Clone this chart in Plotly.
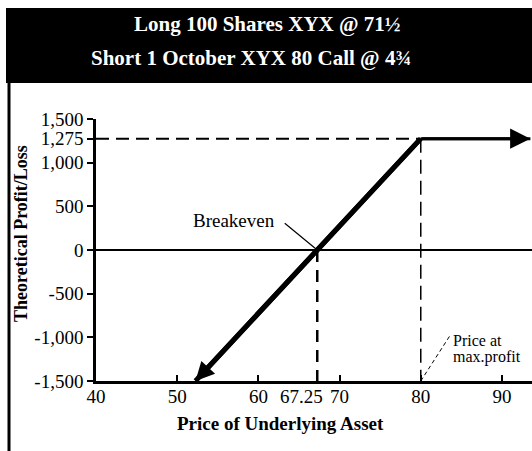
import plotly.graph_objects as go

# ---------------- data ----------------
title_line1 = "Long 100 Shares XYX @ 71½"
title_line2 = "Short 1 October XYX 80 Call @ 4¾"
prices = [52.25, 80, 93.5]          # underlying price at path points
profit = [-1500, 1275, 1275]        # theoretical profit/loss
breakeven = 67.25
max_profit_price = 80
max_profit = 1275
x_ticks = [40, 50, 60, 70, 80, 90]
y_ticks = [-1500, -1000, -500, 0, 500, 1000, 1275, 1500]
y_tick_labels = ["-1,500", "-1,000", "-500", "0", "500", "1,000", "1,275", "1,500"]
breakeven_tick_label = "67.25"
x_title = "Price of Underlying Asset"
y_title = "Theoretical Profit/Loss"
breakeven_label = "Breakeven"
maxprofit_label1 = "Price at"
maxprofit_label2 = "max.profit"

# ---------------- layout geometry ----------------
W, H = 532, 451
L, R, T, B = 96, 0, 119, 70
X_RANGE = [40, 93.7]
Y_RANGE = [-1500, 1500]
FONT = "Liberation Serif, Times New Roman, serif"


def pxx(p):
    return (p - L) / (W - L - R)


def pxy(p):
    return (H - B - p) / (H - T - B)


def dx(p):
    return X_RANGE[0] + pxx(p) * (X_RANGE[1] - X_RANGE[0])


def dy(p):
    return Y_RANGE[0] + pxy(p) * (Y_RANGE[1] - Y_RANGE[0])


fig = go.Figure()
fig.add_trace(go.Scatter(x=prices[:2], y=profit[:2], mode="lines",
                         line=dict(color="black", width=5), hoverinfo="skip"))
fig.add_trace(go.Scatter(x=prices[1:], y=profit[1:], mode="lines",
                         line=dict(color="black", width=3), hoverinfo="skip"))

shapes = [
    # title box
    dict(type="rect", xref="paper", yref="paper", x0=pxx(6), x1=pxx(540),
         y0=pxy(83), y1=pxy(8), fillcolor="black", line=dict(width=0)),
    # left frame border
    dict(type="line", xref="paper", yref="paper", x0=pxx(9), x1=pxx(9),
         y0=pxy(83), y1=pxy(460), line=dict(color="black", width=3)),
    # dashed guide lines
    dict(type="line", xref="x", yref="y", x0=X_RANGE[0], x1=max_profit_price,
         y0=max_profit, y1=max_profit, line=dict(color="black", width=2, dash="13px,7px")),
    dict(type="line", xref="x", yref="y", x0=breakeven, x1=breakeven,
         y0=0, y1=Y_RANGE[0], line=dict(color="black", width=2.5, dash="12px,8px")),
    dict(type="line", xref="x", yref="y", x0=max_profit_price, x1=max_profit_price,
         y0=max_profit, y1=Y_RANGE[0], line=dict(color="black", width=1.5, dash="14px,7px")),
    # leader to "Price at max.profit"
    dict(type="line", xref="x", yref="y", x0=max_profit_price, x1=dx(451),
         y0=Y_RANGE[0], y1=dy(334), line=dict(color="black", width=1, dash="4px,3px")),
]

annotations = [
    # arrowheads on the payoff line
    dict(x=prices[0], y=profit[0], ax=prices[1], ay=profit[1], xref="x", yref="y",
         axref="x", ayref="y", text="", showarrow=True, arrowhead=2, arrowsize=0.75,
         arrowwidth=5, arrowcolor="black"),
    dict(x=prices[2], y=profit[2], ax=prices[1], ay=profit[1], xref="x", yref="y",
         axref="x", ayref="y", text="", showarrow=True, arrowhead=2, arrowsize=1.35,
         arrowwidth=3, arrowcolor="black"),
    # title
    dict(x=pxx(267), y=pxy(24), xref="paper", yref="paper", text="<b>%s</b>" % title_line1,
         showarrow=False, font=dict(family=FONT, size=21, color="white"),
         xanchor="center", yanchor="middle"),
    dict(x=pxx(251), y=pxy(58), xref="paper", yref="paper", text="<b>%s</b>" % title_line2,
         showarrow=False, font=dict(family=FONT, size=21, color="white"),
         xanchor="center", yanchor="middle"),
    # axis titles
    dict(x=pxx(280), y=pxy(423), xref="paper", yref="paper", text="<b>%s</b>" % x_title,
         showarrow=False, font=dict(family=FONT, size=19, color="black"),
         xanchor="center", yanchor="middle"),
    dict(x=pxx(21), y=pxy(234), xref="paper", yref="paper", text="<b>%s</b>" % y_title,
         showarrow=False, textangle=-90, font=dict(family=FONT, size=18, color="black"),
         xanchor="center", yanchor="middle"),
    # breakeven tick label
    dict(x=breakeven, y=pxy(396), xref="x", yref="paper", text=breakeven_tick_label,
         showarrow=False, xanchor="right", yanchor="middle", xshift=8,
         font=dict(family=FONT, size=19, color="black")),
    # breakeven callout
    dict(x=pxx(234), y=pxy(220), xref="paper", yref="paper", text=breakeven_label,
         showarrow=False, font=dict(family=FONT, size=19, color="black"),
         xanchor="center", yanchor="middle"),
    dict(x=breakeven, y=0, xref="x", yref="y", ax=-34, ay=-28, text="", showarrow=True,
         arrowhead=0, arrowwidth=1.2, arrowcolor="black"),
    # max profit callout
    dict(x=pxx(451), y=pxy(340), xref="paper", yref="paper", text=maxprofit_label1,
         showarrow=False, xanchor="left", yanchor="middle",
         font=dict(family=FONT, size=16, color="black")),
    dict(x=pxx(451), y=pxy(357), xref="paper", yref="paper", text=maxprofit_label2,
         showarrow=False, xanchor="left", yanchor="middle",
         font=dict(family=FONT, size=16, color="black")),
]

fig.update_layout(
    width=W, height=H, autosize=False,
    margin=dict(l=L, r=R, t=T, b=B, pad=0),
    paper_bgcolor="white", plot_bgcolor="white",
    showlegend=False,
    font=dict(family=FONT, size=19, color="black"),
    shapes=shapes, annotations=annotations,
    xaxis=dict(range=X_RANGE, tickvals=x_ticks, ticks="inside", ticklen=6, tickwidth=1.5,
               tickcolor="black", showline=True, linecolor="black", linewidth=2.5,
               showgrid=False, zeroline=False, tickangle=0, ticklabelstandoff=-4,
               tickfont=dict(family=FONT, size=19, color="black")),
    yaxis=dict(range=Y_RANGE, tickvals=y_ticks, ticktext=y_tick_labels, ticks="outside",
               ticklen=6, tickwidth=2, tickcolor="black", showline=True, linecolor="black",
               linewidth=2.5, showgrid=False, zeroline=True, zerolinecolor="black",
               zerolinewidth=2, tickfont=dict(family=FONT, size=19, color="black")),
)

fig.write_html("out.html", config={"displayModeBar": False},
               post_script="document.body.style.margin='0';")
